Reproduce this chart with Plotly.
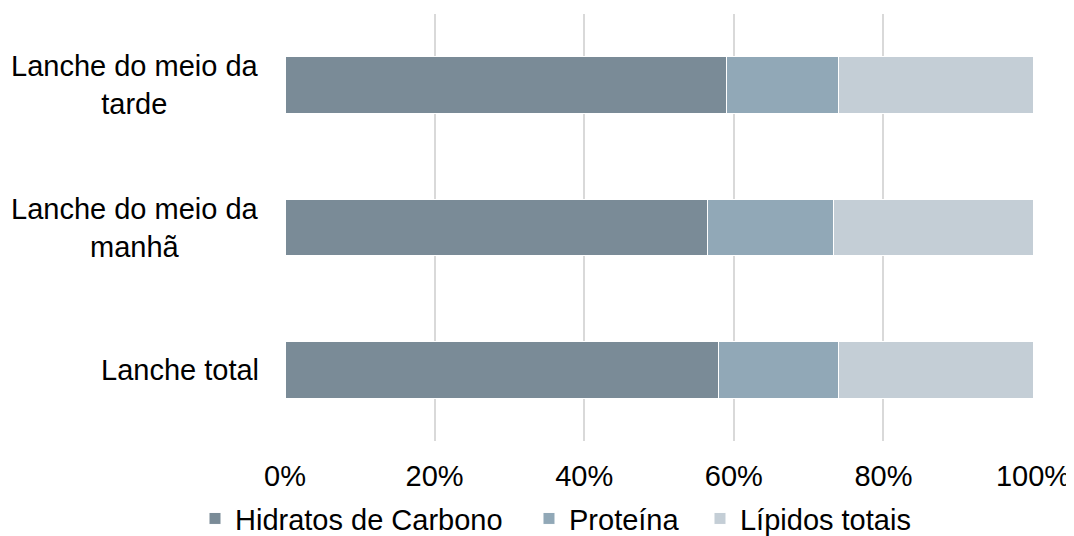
import plotly.graph_objects as go

categories = ["Lanche total", "Lanche do meio da<br>manhã", "Lanche do meio da<br>tarde"]
hidratos = [57.9, 56.5, 59.0]
proteina = [16.1, 16.8, 15.0]
lipidos = [26.0, 26.7, 26.0]
series_names = ["Hidratos de Carbono", "Proteína", "Lípidos totais"]
colors = ["#7A8B97", "#91A8B7", "#C4CED6"]
tick_vals = [0, 20, 40, 60, 80, 100]
tick_text = ["0%", "20%", "40%", "60%", "80%", "100%"]

FS = 29
legend_ids = ["legend", "legend2", "legend3"]
legend_x = [-0.1203, 0.3262, 0.5548]

fig = go.Figure()
for name, vals, col, lid in zip(series_names, [hidratos, proteina, lipidos], colors, legend_ids):
    fig.add_trace(go.Bar(
        y=categories, x=vals, name=name, orientation="h", legend=lid,
        showlegend=True,
        marker=dict(color=col, line=dict(color="white", width=1)),
    ))

# category labels, centred multi-line like the original
for cat in categories:
    fig.add_annotation(
        x=-0.032, xref="paper", y=cat, yref="y",
        text=cat, showarrow=False, xanchor="right", yanchor="middle",
        align="center", font=dict(size=FS, color="#000000"),
    )

leg_common = dict(orientation="h", xanchor="left", y=-0.122, yanchor="top",
                  font=dict(size=FS), itemwidth=30, bgcolor="rgba(0,0,0,0)")

fig.update_layout(
    showlegend=True,
    barmode="stack",
    bargap=0.6,
    width=1066, height=528,
    margin=dict(l=277, r=41, t=6, b=95, autoexpand=False),
    plot_bgcolor="white", paper_bgcolor="white",
    font=dict(family="Liberation Sans, Arial, sans-serif", size=FS, color="#000000"),
    xaxis=dict(range=[0, 100], tickvals=tick_vals, ticktext=tick_text,
               showgrid=True, gridcolor="#D9D9D9", gridwidth=1.5,
               zeroline=False, showline=False, ticks="", ticklabelstandoff=15,
               tickfont=dict(size=FS), automargin=False),
    yaxis=dict(showgrid=False, showline=False, ticks="", showticklabels=False,
               automargin=False),
    legend=dict(x=legend_x[0], **leg_common),
    legend2=dict(x=legend_x[1], **leg_common),
    legend3=dict(x=legend_x[2], **leg_common),
)
fig.write_html("out.html")
